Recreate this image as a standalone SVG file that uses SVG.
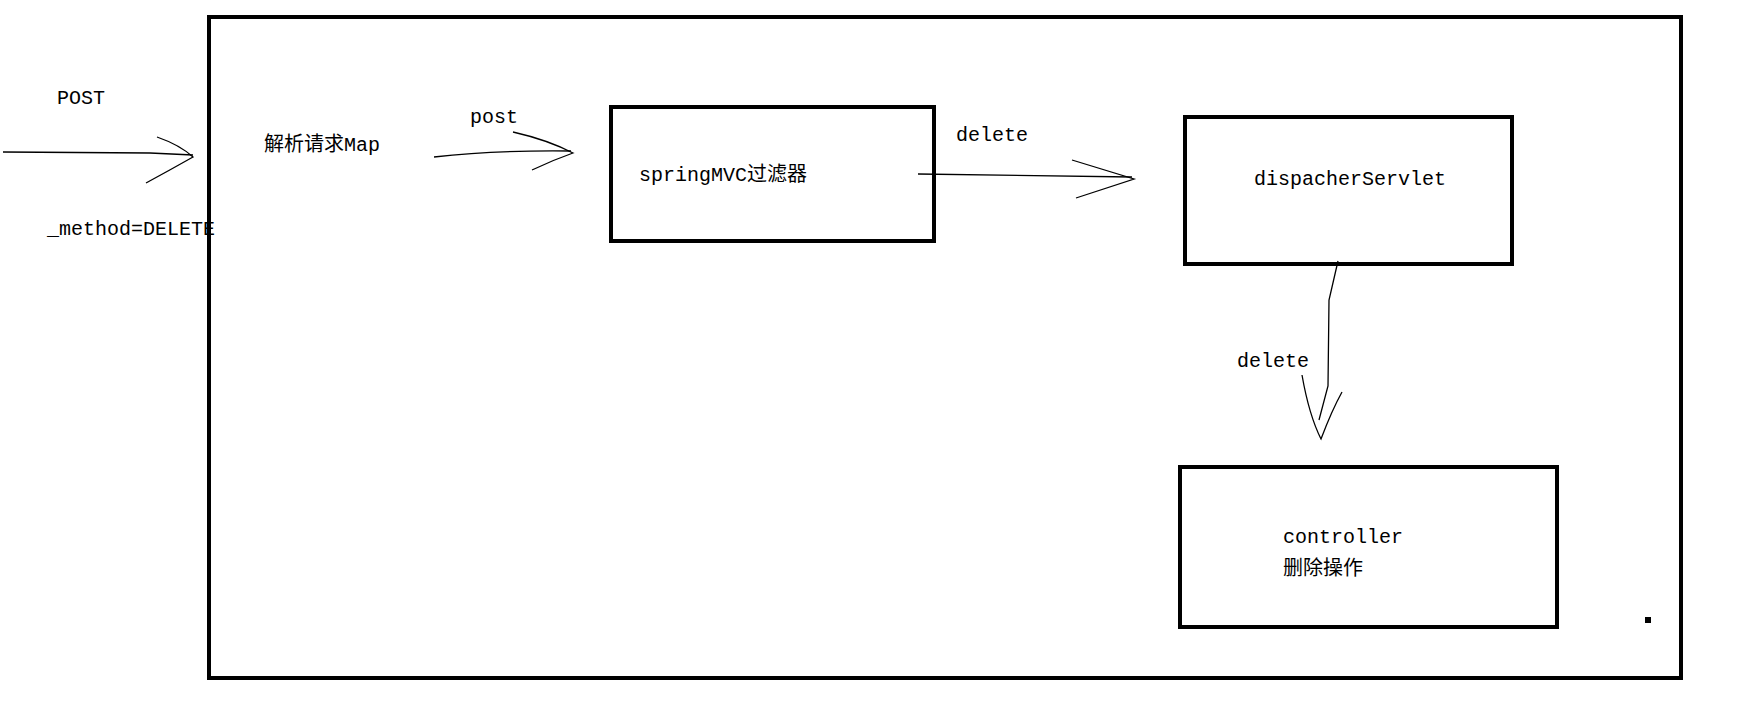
<svg xmlns="http://www.w3.org/2000/svg" width="1747" height="707" viewBox="0 0 1747 707">
<style>
.box{fill:none;stroke:#000;stroke-width:4}
.ln{fill:none;stroke:#000;stroke-width:1.3}
text{font-family:"Liberation Mono","Noto Sans CJK SC",monospace;font-size:20px;fill:#000}
</style>
<rect width="1747" height="707" fill="#fff"/>
<g id="frame"><rect class="box" x="209" y="17" width="1472" height="661"/><rect x="1645" y="617" width="6" height="6"/></g>
<g id="labels">
<text x="57" y="104">POST</text>
<text x="47" y="235">_method=DELETE</text>
<text x="264" y="151">解析请求Map</text>
<text x="470" y="123">post</text>
<text x="956" y="141">delete</text>
<text x="1237" y="367">delete</text>
</g>
<g id="filter"><rect class="box" x="611" y="107" width="323" height="134"/><text x="639" y="181">springMVC过滤器</text></g>
<g id="dispatcher"><rect class="box" x="1185" y="117" width="327" height="147"/><text x="1254" y="185">dispacherServlet</text></g>
<g id="controller"><rect class="box" x="1180" y="467" width="377" height="160"/><text x="1283" y="543">controller</text><text x="1283" y="575">删除操作</text></g>
<g id="connectors">
<path class="ln" d="M3,152 L150,153 L193,155"/>
<path class="ln" d="M157,137 Q180,145 193,157 Q170,170 146,183"/>
<path class="ln" d="M434,157 Q498,150 571,151"/>
<path class="ln" d="M513,132 Q548,140 573,153 Q553,160 532,170"/>
<path class="ln" d="M918,174 L1132,177"/>
<path class="ln" d="M1072,160 L1134,179 L1076,198"/>
<path class="ln" d="M1338,261 L1329,300 L1328,386 L1319,420"/>
<path class="ln" d="M1302,375 Q1309,415 1321,439 Q1332,410 1342,392"/>
</g>
</svg>
